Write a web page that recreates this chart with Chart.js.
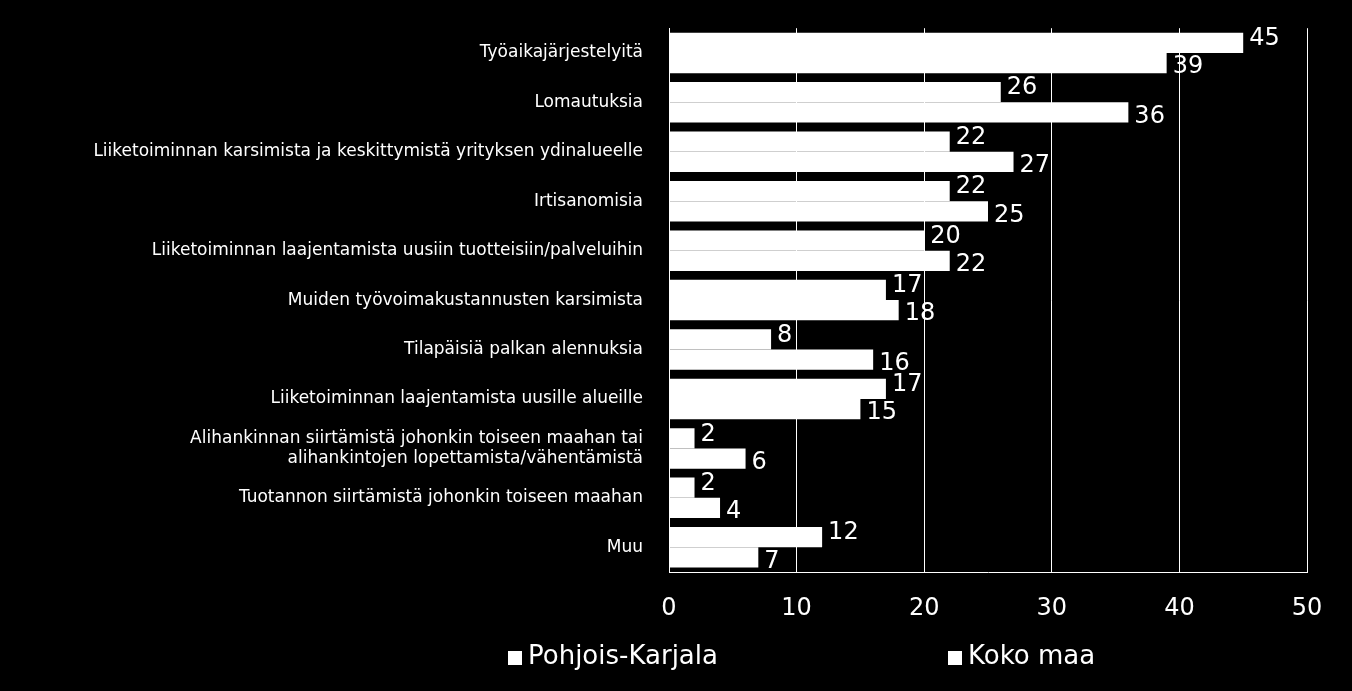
<!DOCTYPE html>
<html><head><meta charset="utf-8">
<script src="https://cdn.jsdelivr.net/npm/chart.js@4"></script>
<style>html,body{margin:0;background:#000;}#w{width:1352px;height:691px;}</style>
</head><body><div id="w"><canvas id="c"></canvas></div>
<script>
const categories = [
 "Työaikajärjestelyitä","Lomautuksia",
 "Liiketoiminnan karsimista ja keskittymistä yrityksen ydinalueelle",
 "Irtisanomisia","Liiketoiminnan laajentamista uusiin tuotteisiin/palveluihin",
 "Muiden työvoimakustannusten karsimista","Tilapäisiä palkan alennuksia",
 "Liiketoiminnan laajentamista uusille alueille",
 ["Alihankinnan siirtämistä johonkin toiseen maahan tai","alihankintojen lopettamista/vähentämistä"],
 "Tuotannon siirtämistä johonkin toiseen maahan","Muu"];
const pohjoisKarjala = [45,26,22,22,20,17,8,17,2,2,12];
const kokoMaa = [39,36,27,25,22,18,16,15,6,4,7];
const xTicks = [0,10,20,30,40,50];

const labelsPlugin = {id:'lbl',afterDatasetsDraw(ch){
 const ctx=ch.ctx;ctx.save();ctx.fillStyle='#fff';ctx.font='24px "DejaVu Sans"';ctx.textBaseline='middle';
 ch.data.datasets.forEach((ds,i)=>{ch.getDatasetMeta(i).data.forEach((b,j)=>{
  ctx.fillText(String(ds.data[j]),b.x+6,b.y+(i===0?-4:4));});});
 // legend
 ctx.font='26px "DejaVu Sans"';ctx.textBaseline='middle';
 const items=[[508,ch.data.datasets[0].label],[948,ch.data.datasets[1].label]];
 items.forEach(([x,t])=>{ctx.fillRect(x,651,14,14);ctx.fillText(t,x+20,657);});
 ctx.restore();}};

new Chart(document.getElementById('c'),{type:'bar',
 data:{labels:categories,datasets:[
  {label:'Pohjois-Karjala',data:pohjoisKarjala,backgroundColor:'#fff',borderWidth:0},
  {label:'Koko maa',data:kokoMaa,backgroundColor:'#fff',borderWidth:0}]},
 options:{indexAxis:'y',responsive:true,maintainAspectRatio:false,animation:false,
  layout:{padding:{left:0,right:45,top:12,bottom:0}},
  datasets:{bar:{categoryPercentage:0.82,barPercentage:1.0}},
  plugins:{tooltip:{enabled:false},legend:{display:false}},
  scales:{
   x:{min:0,max:50,afterBuildTicks(a){a.ticks=xTicks.map(v=>({value:v}));},
    afterFit(a){a.height=119;},
    ticks:{color:'#fff',font:{family:'DejaVu Sans',size:24},padding:22},
    grid:{color:'#fff',lineWidth:1,drawTicks:false},border:{color:'#fff'}},
   y:{afterFit(a){a.width=669;},
    ticks:{color:'#fff',font:{family:'DejaVu Sans',size:17},padding:18,autoSkip:false},
    grid:{display:false},border:{color:'#fff'}}}},
 plugins:[labelsPlugin]});
</script></body></html>
